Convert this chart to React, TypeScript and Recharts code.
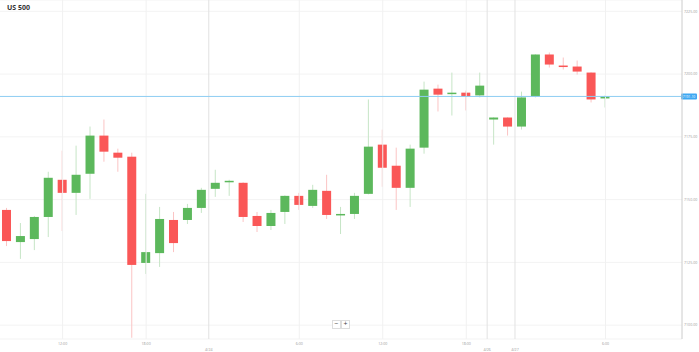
import React from 'react';
import {
  ComposedChart,
  Bar,
  XAxis,
  YAxis,
  CartesianGrid,
  ReferenceLine,
} from 'recharts';

// hourly candles, left to right
const opens = [7145.9, 7133.1, 7134.3, 7143.1, 7157.9, 7152.7, 7160.3, 7175.5, 7168.7, 7167.1, 7124.8, 7128.7, 7141.9, 7141.9, 7146.7, 7154.3, 7157.1, 7156.7, 7143.5, 7139.5, 7145.1, 7151.5, 7147.5, 7153.5, 7143.9, 7144.3, 7152.3, 7171.9, 7163.5, 7154.7, 7170.7, 7194.2, 7192.2, 7192.6, 7191.5, 7181.9, 7182.7, 7179.1, 7191.1, 7207.8, 7203.4, 7203.0, 7200.6, 7190.3];
const highs = [7146.7, 7140.7, 7143.5, 7161.1, 7169.5, 7171.5, 7179.1, 7181.9, 7170.3, 7168.7, 7152.3, 7147.1, 7145.1, 7148.3, 7154.7, 7161.9, 7157.9, 7156.9, 7145.1, 7145.9, 7151.7, 7152.7, 7155.9, 7159.9, 7147.1, 7152.7, 7189.9, 7177.9, 7170.7, 7171.9, 7197.0, 7195.8, 7200.6, 7193.4, 7200.6, 7182.8, 7182.8, 7193.0, 7207.9, 7208.6, 7206.6, 7205.4, 7200.7, 7191.5];
const lows = [7131.5, 7126.4, 7129.9, 7135.1, 7137.5, 7143.9, 7150.3, 7165.1, 7161.1, 7095.0, 7120.4, 7123.2, 7129.1, 7140.3, 7144.7, 7151.1, 7151.5, 7141.1, 7137.1, 7137.9, 7140.3, 7145.9, 7146.7, 7142.3, 7136.3, 7142.3, 7152.1, 7155.1, 7145.9, 7147.1, 7168.3, 7185.1, 7183.5, 7185.5, 7190.7, 7171.9, 7175.5, 7177.9, 7190.7, 7202.6, 7201.8, 7199.8, 7188.7, 7186.7];
const closes = [7133.5, 7135.5, 7143.1, 7158.7, 7152.7, 7159.9, 7175.5, 7169.1, 7166.7, 7124.0, 7129.1, 7142.3, 7132.7, 7146.7, 7153.9, 7156.7, 7157.5, 7143.1, 7139.5, 7144.7, 7151.5, 7147.9, 7153.9, 7143.9, 7144.3, 7151.5, 7171.1, 7162.7, 7154.7, 7170.3, 7193.8, 7191.8, 7192.6, 7191.1, 7195.4, 7182.7, 7179.1, 7190.7, 7207.8, 7203.8, 7203.0, 7201.0, 7189.9, 7191.1];

// empty future slots on the right
const emptySlots = 5;

const xTicks = [4, 10, 14.5, 21, 27, 33, 34.5, 36.5, 43];
const xTickLabels = ['12:00', '18:00', '4/24', '6:00', '12:00', '18:00', '4/26', '4/27', '6:00'];
const yTicks = [7100, 7125, 7150, 7175, 7200, 7225];

const UP = '#5cb85c';
const DOWN = '#fa5757';
const UP_WICK = '#c6e5c6';
const DOWN_WICK = '#fbc4c4';

const CHART_H = 352;
const X_AXIS_H = 13;

const data = [
  ...opens.map((o, i) => ({
    i,
    open: o,
    high: highs[i],
    low: lows[i],
    close: closes[i],
    range: [lows[i], highs[i]],
  })),
  ...Array.from({ length: emptySlots }, (_, k) => ({ i: opens.length + k, range: null })),
];

const currentPrice = closes[closes.length - 1];

const Candle = (props: any) => {
  const { x, y, width, height, payload } = props;
  if (!payload || payload.range == null) return null;
  const top = Math.min(y, y + height);
  const h = Math.abs(height);
  const span = payload.high - payload.low || 1;
  const toY = (v: number) => top + ((payload.high - v) / span) * h;
  const up = payload.close >= payload.open;
  const yo = toY(payload.open);
  const yc = toY(payload.close);
  const bodyTop = Math.min(yo, yc);
  const bodyH = Math.max(Math.abs(yc - yo), 1.5);
  const cx = x + width / 2;
  return (
    <g>
      <line x1={cx} x2={cx} y1={top} y2={top + h} stroke={up ? UP_WICK : DOWN_WICK} strokeWidth={1} />
      <rect x={x} y={bodyTop} width={width} height={bodyH} fill={up ? UP : DOWN} />
    </g>
  );
};

const XTick = (props: any) => {
  const { x, payload } = props;
  const label = xTickLabels[xTicks.indexOf(payload.value)];
  const isDate = label.includes('/');
  const axisY = CHART_H - X_AXIS_H;
  return (
    <text x={x} y={axisY + (isDate ? 11.8 : 5.8)} textAnchor="middle" fontSize={3.6} fill="#9a9a9a" fontFamily="Open Sans">
      {label}
    </text>
  );
};

const PriceLabel = (props: any) => {
  const { viewBox } = props;
  const right = viewBox.x + viewBox.width;
  return (
    <g>
      <rect x={right - 1} y={viewBox.y - 3} width={16} height={6} rx={1} fill="#3ea8f2" />
      <text x={right + 7} y={viewBox.y + 1.3} textAnchor="middle" fontSize={3.4} fill="#fff" fontFamily="Open Sans">
        {currentPrice.toFixed(2)}
      </text>
    </g>
  );
};

const btn: React.CSSProperties = {
  position: 'absolute',
  top: 320,
  width: 7,
  height: 7,
  border: '1px solid #ddd',
  background: '#fff',
  fontSize: 7,
  lineHeight: '6px',
  textAlign: 'center',
  color: '#444',
  fontFamily: 'Open Sans',
};

export default function App() {
  return (
    <div style={{ position: 'absolute', left: 0, top: 0, width: 699, height: CHART_H, background: '#fff' }}>
      <ComposedChart width={699} height={CHART_H} data={data} margin={{ top: 0, right: 0, bottom: 0, left: 0 }}>
        <CartesianGrid vertical={false} stroke="#f3f3f3" xAxisId="n" />
        <XAxis xAxisId="c" dataKey="i" type="category" hide />
        <XAxis
          xAxisId="n"
          dataKey="i"
          type="number"
          domain={[-0.5, data.length - 0.5]}
          allowDataOverflow
          ticks={xTicks}
          interval={0}
          height={X_AXIS_H}
          stroke="#cccccc"
          tickSize={3}
          tickMargin={0}
          tick={<XTick />}
        />
        <YAxis
          orientation="right"
          domain={[7094.5, 7229.5]}
          allowDataOverflow
          ticks={yTicks}
          width={17}
          stroke="#cccccc"
          tickLine={false}
          tickSize={2}
          tickMargin={0}
          tick={{ fontSize: 3.6, fill: '#9a9a9a', fontFamily: 'Open Sans' }}
          tickFormatter={(v: number) => v.toFixed(2)}
        />
        {xTicks.map((t, k) => (
          <ReferenceLine
            key={k}
            xAxisId="n"
            x={t}
            stroke={xTickLabels[k].includes('/') ? '#e2e2e2' : '#f1f1f1'}
          />
        ))}
        <Bar xAxisId="c" dataKey="range" barSize={9} shape={<Candle />} isAnimationActive={false} />
        <ReferenceLine xAxisId="n" y={currentPrice} stroke="#8dcdf3" strokeWidth={1} label={<PriceLabel />} />
      </ComposedChart>
      <div style={{ position: 'absolute', left: 7, top: 3, fontSize: 7, fontWeight: 700, color: '#333', fontFamily: 'Open Sans' }}>
        US 500
      </div>
      <div style={{ ...btn, left: 332 }}>−</div>
      <div style={{ ...btn, left: 341 }}>+</div>
    </div>
  );
}
